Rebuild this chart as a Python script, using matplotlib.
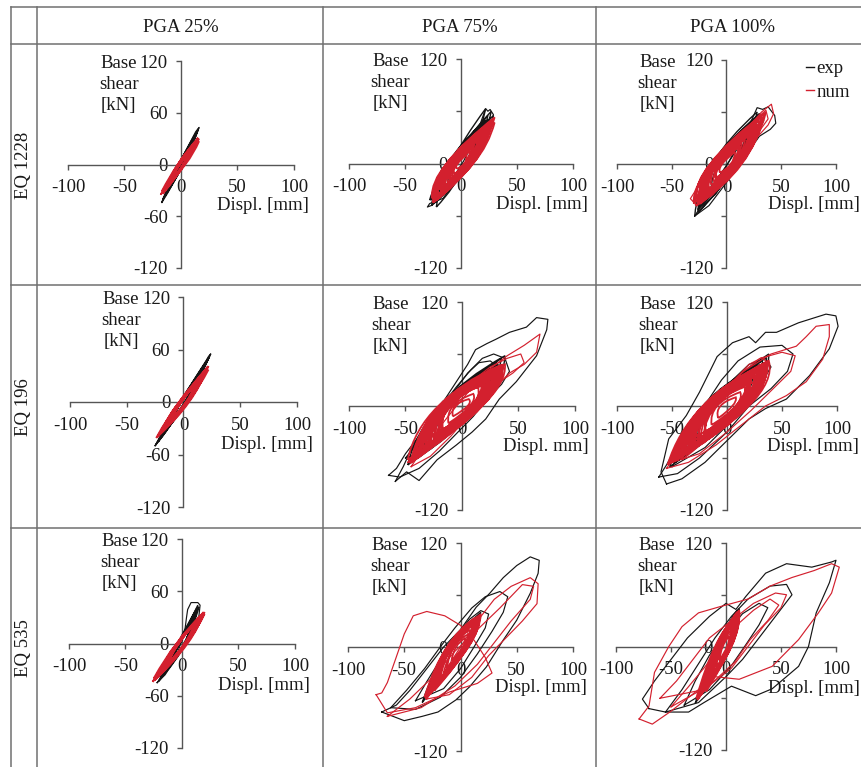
import matplotlib
matplotlib.use('Agg')
import matplotlib.pyplot as plt
from matplotlib.lines import Line2D
from matplotlib.path import Path
from matplotlib.patches import PathPatch
from matplotlib.ticker import FixedLocator, FixedFormatter

plt.rcParams['font.family'] = ['Liberation Serif', 'DejaVu Serif']
plt.rcParams['axes.unicode_minus'] = False

# ---------------- labels ----------------
EQ_LABELS = ['EQ 1228', 'EQ 196', 'EQ 535']
PGA_LABELS = ['PGA 25%', 'PGA 75%', 'PGA 100%']
X_TICKS = [-100, -50, 0, 50, 100]
Y_TICKS = [-120, -60, 0, 60, 120]
X_TICK_LABELS = ['-100', '-50', '0', '50', '100']
Y_TICK_LABELS_FULL = ['-120', '-60', '0', '60', '120']
Y_TICK_LABELS_SHORT = ['-120', '', '0', '', '120']
DISPL_LABELS = [['Displ. [mm]', 'Displ. [mm]', 'Displ. [mm]'],
                ['Displ. [mm]', 'Displ. mm]', 'Displ. [mm]'],
                ['Displ. [mm]', 'Displ. [mm]', 'Displ. [mm]']]
SHEAR_LABEL = 'Base\nshear\n[kN]'
SERIES = ['exp', 'num']

# ---------------- data: displacement [mm], base shear [kN] ----------------
# loops: traced polylines
# core: hysteresis cycles (x_neg_tip, y_neg_tip, x_pos_tip, y_pos_tip, x at V=0 loading, x at V=0 unloading)
EXP_LOOPS_1228_25 = [[(-17, -44), (-9, -24), (1, -1), (9, 22), (16, 43), (13, 38), (5, 18), (-2, 1), (-10, -22), (-15, -38), (-17, -44)]]
EXP_CORE_1228_25 = [(-17, -44, 16, 43, 2, -2), (-15, -38, 14, 38, 2, -2), (-13, -33, 12, 33, 1.5, -1.5), (-11, -28, 11, 30, 1, -2),
                    (-16, -40, 15, 40, 2, -1), (-9, -24, 9, 25, 1, -1)]
NUM_LOOPS_1228_25 = []
NUM_CORE_1228_25 = [(-16, -34, 16, 30, 3, -2), (-14, -30, 14, 28, 3, -3), (-12, -26, 13, 25, 2, -2), (-18, -35, 15, 29, 3, -2),
                    (-10, -22, 10, 20, 2, -2), (-15, -28, 16, 27, 4, -1), (-13, -27, 12, 24, 2, -3), (-17, -31, 15, 31, 3, -3),
                    (-8, -18, 9, 18, 2, -1), (-11, -24, 14, 26, 3, -2)]

EXP_LOOPS_1228_75 = [[(-26, -48), (-18, -36), (-8, -18), (2, 2), (10, 22), (17, 45), (22, 63), (24, 60), (26, 62), (29, 56), (26, 45),
                      (20, 30), (12, 12), (4, -4), (-6, -22), (-16, -40), (-28, -46), (-30, -50), (-26, -48)]]
EXP_CORE_1228_75 = [(-24, -44, 24, 55, 7, -10), (-22, -40, 20, 48, 6, -9), (-20, -38, 26, 52, 8, -8), (-18, -34, 18, 42, 5, -11),
                    (-25, -46, 22, 50, 6, -12), (-15, -30, 16, 36, 4, -7), (-28, -42, 27, 60, 8, -11), (-22, -50, 22, 63, 5, -9),
                    (-12, -24, 12, 28, 4, -6), (-26, -48, 29, 55, 9, -12)]
NUM_LOOPS_1228_75 = []
NUM_CORE_1228_75 = [(-25, -45, 30, 53, 10, -12), (-24, -42, 28, 48, 9, -13), (-22, -40, 27, 45, 10, -11), (-20, -36, 25, 42, 8, -13),
                    (-23, -38, 24, 40, 9, -10), (-18, -32, 22, 36, 7, -9), (-16, -28, 20, 32, 6, -8), (-21, -35, 28, 50, 11, -10),
                    (-14, -25, 18, 30, 5, -7), (-24, -44, 26, 44, 10, -12), (-12, -22, 15, 26, 5, -6), (-19, -30, 23, 38, 8, -9),
                    (-10, -18, 12, 22, 4, -5), (-26, -40, 30, 47, 11, -13), (-17, -34, 21, 40, 6, -11), (-8, -15, 10, 18, 4, -4),
                    (-22, -42, 25, 46, 9, -12), (-15, -26, 19, 34, 8, -7), (-6, -12, 8, 14, 4, -4), (-10, -20, 10, 20, 5, -6),
                    (-4, -6, 5, 10, 3, -3)]

EXP_LOOPS_1228_100 = [[(-29, -60), (-22, -46), (-10, -20), (2, 2), (12, 22), (22, 48), (28, 65), (33, 63), (38, 66), (44, 56), (45, 47),
                       (40, 40), (30, 32), (20, 14), (10, -4), (-4, -28), (-16, -48), (-29, -60)],
                      [(-26, -52), (-15, -30), (0, -2), (12, 25), (24, 50), (30, 58), (34, 50), (28, 35), (15, 12), (3, -10), (-10, -35), (-26, -52)]]
EXP_CORE_1228_100 = [(-25, -50, 24, 50, 8, -12), (-22, -45, 22, 45, 7, -10), (-20, -42, 26, 52, 9, -11), (-18, -38, 20, 40, 6, -9),
                     (-29, -60, 28, 60, 9, -13), (-26, -55, 30, 58, 10, -12), (-14, -30, 15, 32, 5, -7), (-23, -48, 25, 48, 8, -14)]
NUM_LOOPS_1228_100 = [[(-27, -48), (-33, -40), (-28, -30), (-15, -10), (0, 12), (15, 35), (32, 60), (41, 69), (43, 58), (38, 45), (26, 28),
                       (14, 8), (2, -12), (-12, -35), (-27, -48)],
                      [(-30, -45), (-20, -22), (-5, 5), (10, 28), (25, 50), (36, 62), (38, 52), (30, 38), (18, 18), (6, -2), (-8, -25), (-30, -45)]]
NUM_CORE_1228_100 = [(-26, -46, 30, 50, 12, -13), (-24, -42, 28, 46, 11, -14), (-22, -40, 26, 44, 12, -12), (-20, -36, 24, 40, 10, -13),
                     (-25, -44, 32, 54, 13, -11), (-18, -32, 22, 36, 9, -10), (-23, -38, 27, 42, 11, -14), (-16, -28, 20, 32, 8, -9),
                     (-21, -34, 25, 38, 10, -12), (-14, -24, 17, 28, 7, -8), (-28, -48, 34, 58, 14, -15), (-12, -20, 14, 24, 6, -6),
                     (-19, -35, 23, 42, 9, -12), (-27, -40, 29, 44, 12, -15), (-10, -16, 11, 20, 5, -5), (-24, -46, 26, 48, 10, -13),
                     (-17, -30, 20, 34, 10, -9), (-30, -44, 36, 60, 13, -14), (-6, -10, 8, 14, 4, -4), (-9, -18, 12, 20, 6, -7)]

EXP_LOOPS_196_25 = [[(-25, -50), (-15, -30), (0, -2), (12, 26), (24, 55), (22, 52), (10, 24), (-2, 1), (-14, -28), (-25, -50)]]
EXP_CORE_196_25 = [(-22, -45, 22, 50, 2, -2), (-20, -40, 20, 46, 2, -3), (-18, -36, 18, 42, 3, -2), (-24, -48, 23, 52, 1, -2),
                   (-15, -30, 15, 34, 2, -2), (-12, -26, 13, 28, 2, -2), (-25, -50, 24, 55, 2, -3)]
NUM_LOOPS_196_25 = []
NUM_CORE_196_25 = [(-23, -40, 22, 41, 4, -3), (-21, -36, 20, 38, 3, -4), (-19, -34, 19, 35, 4, -3), (-17, -30, 17, 32, 3, -3),
                   (-22, -38, 21, 40, 5, -2), (-15, -26, 15, 28, 3, -3), (-20, -35, 22, 37, 4, -4), (-13, -22, 12, 24, 3, -2),
                   (-24, -41, 20, 36, 4, -4), (-10, -18, 10, 19, 2, -2)]

EXP_LOOPS_196_75 = [[(-59, -87), (-52, -70), (-45, -50), (-36, -30), (-25, -10), (-14, 10), (-4, 30), (5, 48), (12, 65), (22, 72), (30, 77),
                     (42, 85), (57, 91), (66, 102), (76, 100), (75, 88), (66, 58), (48, 28), (33, 8), (21, -15), (9, -30), (-5, -45),
                     (-22, -62), (-38, -86), (-49, -76), (-59, -87)],
                    [(-65, -80), (-58, -72), (-50, -55), (-40, -38), (-30, -20), (-18, 0), (-5, 22), (8, 42), (18, 55), (28, 60), (38, 55),
                     (42, 40), (35, 25), (22, 8), (10, -12), (-5, -32), (-20, -52), (-38, -72), (-55, -82), (-65, -80)],
                    [(-50, -60), (-35, -35), (-20, -10), (-8, 15), (5, 38), (15, 50), (25, 52), (32, 45), (28, 30), (18, 12), (5, -8),
                     (-10, -30), (-28, -50), (-50, -60)]]
EXP_CORE_196_75 = [(-45, -62, 30, 50, 15, -18), (-40, -58, 28, 45, 12, -20), (-38, -55, 32, 48, 14, -16), (-42, -60, 25, 42, 13, -19),
                   (-30, -45, 35, 55, 14, -15), (-35, -50, 20, 38, 10, -14), (-48, -68, 38, 58, 16, -20), (-25, -40, 25, 40, 10, -12)]
NUM_LOOPS_196_75 = [[(-45, -70), (-35, -50), (-22, -28), (-8, -5), (8, 20), (22, 40), (40, 58), (55, 70), (69, 83), (66, 62), (55, 48),
                     (42, 38), (30, 22), (18, 5), (5, -12), (-10, -35), (-28, -58), (-45, -70)],
                    [(-48, -65), (-35, -42), (-20, -18), (-5, 8), (10, 30), (25, 45), (40, 55), (52, 60), (55, 50), (45, 38), (30, 25),
                     (15, 8), (0, -15), (-20, -42), (-48, -65)]]
NUM_CORE_196_75 = [(-45, -65, 35, 45, 17, -18), (-42, -60, 33, 44, 15, -20), (-40, -58, 36, 46, 18, -16), (-38, -55, 30, 42, 14, -19),
                   (-44, -62, 34, 47, 16, -17), (-36, -52, 32, 40, 15, -15), (-33, -50, 28, 38, 12, -17), (-30, -45, 27, 36, 13, -14),
                   (-41, -57, 35, 43, 17, -19), (-28, -42, 24, 34, 11, -13), (-46, -66, 31, 45, 15, -20), (-35, -48, 33, 44, 16, -16),
                   (-25, -38, 22, 30, 10, -12), (-22, -34, 20, 28, 9, -11), (-48, -62, 38, 48, 18, -21), (-39, -60, 30, 40, 12, -18),
                   (-32, -46, 34, 46, 17, -14), (-20, -30, 18, 26, 8, -10), (-43, -58, 28, 38, 14, -20), (-37, -54, 36, 48, 18, -17),
                   (-27, -44, 26, 40, 12, -15), (-34, -40, 30, 34, 16, -12), (-18, -28, 14, 22, 9, -11), (-12, -20, 10, 14, 7, -8),
                   (-8, -12, 6, 8, 5, -6), (-24, -36, 18, 26, 12, -14), (-30, -48, 22, 32, 14, -16), (-15, -35, 20, 30, 10, -12),
                   (-35, -40, 25, 26, 14, -18)]

EXP_LOOPS_196_100 = [[(-55, -90), (-60, -76), (-53, -38), (-37, -11), (-25, 16), (-16, 39), (-9, 57), (5, 73), (20, 80), (26, 73), (35, 85),
                      (45, 85), (65, 96), (90, 106), (99, 104), (101, 92), (93, 66), (75, 35), (54, 8), (35, -3), (20, -15), (0, -40),
                      (-20, -65), (-41, -84), (-55, -90)],
                     [(-62, -82), (-55, -68), (-45, -45), (-32, -20), (-18, 5), (-5, 30), (10, 52), (30, 68), (50, 70), (60, 60), (55, 40),
                      (40, 20), (20, 0), (0, -30), (-25, -60), (-45, -78), (-62, -82)],
                     [(-50, -70), (-38, -48), (-25, -25), (-10, 5), (5, 30), (20, 48), (35, 55), (40, 45), (32, 28), (18, 8), (2, -20),
                      (-20, -48), (-50, -70)]]
EXP_CORE_196_100 = [(-48, -66, 32, 52, 16, -20), (-44, -62, 30, 48, 14, -22), (-40, -58, 34, 50, 17, -18), (-46, -64, 28, 45, 15, -21),
                    (-35, -50, 36, 56, 16, -16), (-52, -70, 30, 44, 14, -22), (-28, -40, 24, 40, 11, -13), (-42, -56, 38, 60, 18, -19)]
NUM_LOOPS_196_100 = [[(-55, -72), (-40, -45), (-25, -15), (-5, 15), (15, 40), (40, 60), (63, 69), (72, 80), (81, 92), (93, 94), (93, 80),
                      (87, 54), (72, 28), (54, 12), (35, 0), (15, -20), (-10, -45), (-35, -65), (-55, -72)],
                     [(-50, -65), (-30, -30), (-10, 10), (15, 40), (30, 55), (50, 62), (62, 58), (58, 40), (42, 20), (22, -5), (0, -30),
                      (-25, -55), (-50, -65)],
                     [(-45, -60), (-28, -30), (-12, 0), (5, 28), (20, 48), (32, 56), (38, 48), (30, 30), (15, 10), (0, -15), (-20, -42),
                      (-45, -60)]]
NUM_CORE_196_100 = [(-50, -65, 35, 48, 18, -20), (-46, -62, 33, 46, 16, -22), (-44, -60, 36, 50, 19, -18), (-42, -58, 30, 44, 15, -21),
                    (-48, -64, 34, 47, 17, -19), (-40, -55, 32, 42, 16, -17), (-36, -52, 28, 40, 14, -18), (-33, -48, 27, 38, 13, -16),
                    (-45, -60, 35, 45, 18, -21), (-30, -44, 25, 36, 12, -15), (-52, -66, 31, 46, 16, -22), (-38, -50, 33, 44, 17, -17),
                    (-27, -40, 22, 32, 10, -13), (-24, -36, 20, 28, 9, -12), (-54, -68, 38, 52, 20, -22), (-41, -62, 30, 40, 13, -19),
                    (-34, -46, 36, 50, 19, -15), (-21, -32, 18, 26, 8, -10), (-47, -60, 29, 40, 15, -21), (-39, -56, 37, 52, 19, -18),
                    (-29, -46, 28, 42, 13, -16), (-36, -44, 32, 38, 17, -13), (-20, -30, 16, 22, 10, -12), (-14, -22, 12, 16, 8, -9),
                    (-8, -14, 8, 10, 5, -6), (-26, -38, 20, 28, 13, -15), (-32, -50, 24, 34, 15, -17), (-18, -38, 22, 32, 11, -13),
                    (-38, -42, 26, 28, 15, -19)]

EXP_LOOPS_535_25 = [[(-22, -45), (-14, -30), (-4, -10), (2, 10), (4, 30), (5, 39), (8, 47), (14, 47), (16, 44), (15, 32), (10, 18), (3, 2),
                     (-6, -18), (-15, -36), (-22, -45)]]
EXP_CORE_535_25 = [(-20, -42, 14, 44, 3, -3), (-18, -38, 13, 40, 2, -4), (-16, -34, 12, 36, 3, -2), (-21, -44, 15, 42, 2, -3),
                   (-14, -30, 10, 32, 2, -2), (-11, -24, 9, 26, 2, -2)]
NUM_LOOPS_535_25 = []
NUM_CORE_535_25 = [(-26, -44, 20, 36, 4, -4), (-23, -40, 18, 34, 3, -5), (-20, -36, 17, 32, 4, -3), (-18, -32, 16, 30, 3, -4),
                   (-24, -42, 19, 36, 5, -3), (-15, -28, 14, 26, 3, -3), (-21, -38, 20, 34, 4, -4), (-12, -22, 11, 22, 2, -3),
                   (-25, -40, 17, 30, 3, -5)]

EXP_LOOPS_535_75 = [[(-70, -75), (-57, -67), (-45, -50), (-30, -25), (-15, 0), (0, 20), (14, 46), (26, 62), (38, 80), (50, 94), (62, 104),
                     (70, 100), (69, 85), (62, 62), (50, 31), (38, 8), (23, -23), (8, -46), (-4, -61), (-20, -75), (-34, -80), (-50, -85),
                     (-70, -75)],
                    [(-62, -70), (-48, -50), (-32, -25), (-18, 0), (-5, 22), (10, 45), (22, 58), (35, 64), (42, 58), (38, 40), (28, 18),
                     (15, -8), (0, -35), (-18, -58), (-40, -72), (-62, -70)],
                    [(-40, -62), (-30, -40), (-18, -15), (-5, 10), (8, 32), (18, 42), (25, 38), (22, 22), (12, 0), (0, -25), (-15, -48),
                     (-40, -62)]]
EXP_CORE_535_75 = [(-30, -58, 15, 35, 5, -10), (-28, -54, 14, 32, 4, -11), (-26, -52, 16, 36, 6, -9), (-32, -60, 12, 30, 4, -12),
                   (-22, -44, 18, 40, 6, -9), (-34, -64, 10, 26, 3, -12)]
NUM_LOOPS_535_75 = [[(-75, -55), (-70, -53), (-65, -41), (-58, -15), (-50, 15), (-42, 36), (-30, 41), (-14, 36), (0, 25), (12, 8),
                     (22, -12), (28, -30), (15, -42), (-10, -52), (-40, -70), (-65, -76), (-75, -55)],
                    [(-30, -60), (-15, -30), (0, 0), (15, 30), (30, 55), (45, 70), (62, 80), (69, 73), (68, 50), (55, 30), (40, 10),
                     (25, -10), (10, -35), (-10, -55), (-30, -60)],
                    [(-65, -80), (-45, -60), (-25, -35), (-5, -5), (15, 20), (35, 45), (55, 72), (65, 70), (62, 55), (45, 30), (30, 5),
                     (15, -20), (-5, -45), (-35, -70), (-65, -80)]]
NUM_CORE_535_75 = [(-30, -58, 16, 34, 6, -10), (-28, -55, 15, 32, 5, -11), (-26, -52, 17, 36, 7, -9), (-24, -48, 14, 30, 5, -10),
                   (-29, -56, 13, 31, 4, -12), (-22, -44, 12, 28, 4, -9), (-27, -50, 16, 33, 6, -11), (-20, -40, 11, 26, 4, -8),
                   (-31, -60, 15, 35, 5, -10), (-18, -36, 10, 24, 3, -8), (-25, -46, 18, 38, 7, -10), (-32, -58, 14, 30, 5, -12),
                   (-15, -30, 8, 20, 3, -6), (-23, -50, 13, 34, 6, -11), (-12, -24, 6, 14, 3, -6), (-8, -16, 4, 10, 2, -4)]

EXP_LOOPS_535_100 = [[(-70, -72), (-76, -61), (-65, -40), (-50, -15), (-35, 10), (-15, 35), (0, 50), (9, 43), (18, 58), (36, 85), (55, 96),
                      (78, 92), (96, 98), (100, 100), (94, 74), (82, 39), (75, 0), (66, -23), (42, -49), (27, -57), (5, -46), (-20, -65),
                      (-34, -76), (-55, -76), (-70, -72)],
                     [(-55, -76), (-40, -50), (-25, -20), (-10, 10), (5, 35), (20, 55), (40, 70), (55, 72), (60, 60), (45, 35), (30, 10),
                      (15, -15), (0, -35), (-25, -65), (-55, -76)],
                     [(-38, -68), (-28, -40), (-15, -10), (0, 15), (15, 38), (30, 50), (38, 45), (30, 25), (18, 2), (5, -22), (-15, -50),
                      (-38, -68)]]
EXP_CORE_535_100 = [(-25, -60, 10, 42, 3, -8), (-23, -56, 9, 38, 3, -9), (-21, -52, 11, 40, 4, -7), (-27, -62, 8, 36, 2, -8),
                    (-18, -46, 12, 44, 4, -7), (-28, -66, 7, 32, 2, -9)]
NUM_LOOPS_535_100 = [[(-79, -84), (-67, -90), (-50, -75), (-30, -55), (-10, -35), (12, -38), (42, -23), (66, 8), (84, 39), (96, 62),
                      (103, 92), (96, 96), (80, 88), (60, 80), (40, 70), (20, 55), (-6, 46), (-25, 39), (-40, 23), (-52, 0), (-65, -30),
                      (-70, -69), (-79, -84)],
                     [(-60, -60), (-45, -40), (-30, -15), (-15, 10), (5, 30), (25, 50), (45, 62), (55, 60), (50, 45), (35, 25), (20, 0),
                      (5, -25), (-20, -50), (-60, -60)],
                     [(-50, -70), (-35, -48), (-20, -25), (-5, 0), (10, 25), (25, 42), (40, 55), (48, 48), (38, 30), (22, 8), (8, -18),
                      (-15, -45), (-50, -70)]]
NUM_CORE_535_100 = [(-25, -60, 10, 40, 4, -8), (-23, -56, 9, 37, 3, -9), (-21, -52, 11, 39, 4, -7), (-19, -48, 8, 34, 3, -8),
                    (-24, -58, 10, 38, 4, -9), (-17, -44, 7, 32, 3, -7), (-22, -54, 12, 41, 5, -8), (-15, -40, 6, 30, 2, -6),
                    (-26, -62, 9, 36, 3, -9), (-13, -34, 5, 26, 2, -5), (-20, -50, 12, 42, 5, -8), (-27, -60, 8, 33, 3, -10),
                    (-11, -30, 4, 22, 2, -5), (-18, -52, 10, 36, 4, -9), (-9, -24, 4, 18, 2, -4), (-6, -16, 3, 12, 1, -3)]

PANEL_DATA = [
    [(EXP_LOOPS_1228_25, EXP_CORE_1228_25, NUM_LOOPS_1228_25, NUM_CORE_1228_25),
     (EXP_LOOPS_1228_75, EXP_CORE_1228_75, NUM_LOOPS_1228_75, NUM_CORE_1228_75),
     (EXP_LOOPS_1228_100, EXP_CORE_1228_100, NUM_LOOPS_1228_100, NUM_CORE_1228_100)],
    [(EXP_LOOPS_196_25, EXP_CORE_196_25, NUM_LOOPS_196_25, NUM_CORE_196_25),
     (EXP_LOOPS_196_75, EXP_CORE_196_75, NUM_LOOPS_196_75, NUM_CORE_196_75),
     (EXP_LOOPS_196_100, EXP_CORE_196_100, NUM_LOOPS_196_100, NUM_CORE_196_100)],
    [(EXP_LOOPS_535_25, EXP_CORE_535_25, NUM_LOOPS_535_25, NUM_CORE_535_25),
     (EXP_LOOPS_535_75, EXP_CORE_535_75, NUM_LOOPS_535_75, NUM_CORE_535_75),
     (EXP_LOOPS_535_100, EXP_CORE_535_100, NUM_LOOPS_535_100, NUM_CORE_535_100)],
]

# ---------------- layout (pixels) ----------------
W, H = 862, 767
# (x at -100, x at +100, y at +120, y at -120)
AX_BOX = [[(68, 294, 61, 268), (349, 573, 59, 268), (617, 836, 60, 268)],
          [(70, 297, 297, 507), (349, 575, 302, 510), (617, 837, 302, 510)],
          [(69, 295, 539, 748), (348, 573, 543, 751), (616, 836, 543, 750)]]
SHEAR_X = [-55, -63, -63]
DISPL_POS = [[(113, -48), (113, -47), (122, -47)],
             [(114, -49), (112, -47), (120, -47)],
             [(113, -48), (112, -47), (122, -49)]]
HEADER_X = [181, 460, 733]
HEADER_Y = 27
ROW_Y = [165, 407, 648]

EXP_COLOR = '#151515'
NUM_COLOR = '#d3202e'
GRID_COLOR = '#707070'
TEXT_COLOR = '#1a1a1a'
FS = 13.5

fig = plt.figure(figsize=(W / 100, H / 100), dpi=100)
fig.patch.set_facecolor('white')


def fx(px):
    return px / W


def fy(py):
    return 1 - py / H


def hline(y, x1, x2):
    fig.add_artist(Line2D([fx(x1), fx(x2)], [fy(y), fy(y)], transform=fig.transFigure, color=GRID_COLOR, lw=1.1))


def vline(x, y1, y2):
    fig.add_artist(Line2D([fx(x), fx(x)], [fy(y1), fy(y2)], transform=fig.transFigure, color=GRID_COLOR, lw=1.1))


for yy in (7, 44, 285, 528):
    hline(yy, 11, 862)
for xx in (11, 37, 323, 596):
    vline(xx, 7, 767)

for j, lab in enumerate(PGA_LABELS):
    fig.text(fx(HEADER_X[j]), fy(HEADER_Y), lab, ha='center', va='center', fontsize=FS, color=TEXT_COLOR)
for i, lab in enumerate(EQ_LABELS):
    fig.text(fx(24), fy(ROW_Y[i]), lab, ha='center', va='center', rotation=90, fontsize=FS, color=TEXT_COLOR)


def cycle_path(cycles):
    """Lens-shaped hysteresis cycles: quadratic curves between the read tips,
    passing through the read zero-shear displacements."""
    verts, codes = [], []
    for (x1, y1, x2, y2, xu, xd) in cycles:
        mx, my = (x1 + x2) / 2, (y1 + y2) / 2
        cu = (2 * xu - mx, -my)
        cd = (2 * xd - mx, -my)
        verts += [(x1, y1), cu, (x2, y2), cd, (x1, y1)]
        codes += [Path.MOVETO, Path.CURVE3, Path.CURVE3, Path.CURVE3, Path.CURVE3]
    return Path(verts, codes)


for i in range(3):
    for j in range(3):
        xl, xr, yt, yb = AX_BOX[i][j]
        ax = fig.add_axes([fx(xl), fy(yb), (xr - xl) / W, (yb - yt) / H])
        ax.set_facecolor('none')
        ax.set_xlim(-100, 100)
        ax.set_ylim(-120, 120)
        for s in ('top', 'right'):
            ax.spines[s].set_visible(False)
        for s in ('left', 'bottom'):
            ax.spines[s].set_position(('data', 0))
            ax.spines[s].set_color('#555555')
            ax.spines[s].set_linewidth(1.0)
        ax.xaxis.set_major_locator(FixedLocator(X_TICKS))
        ax.xaxis.set_major_formatter(FixedFormatter(X_TICK_LABELS))
        ax.yaxis.set_major_locator(FixedLocator(Y_TICKS))
        ax.yaxis.set_major_formatter(FixedFormatter(Y_TICK_LABELS_FULL if j == 0 else Y_TICK_LABELS_SHORT))
        ax.tick_params(axis='x', direction='out', length=3.5, width=1.0, color='#555555', pad=7,
                       labelsize=FS, labelcolor=TEXT_COLOR)
        ax.tick_params(axis='y', direction='out', length=3.5, width=1.0, color='#555555', pad=6,
                       labelsize=FS, labelcolor=TEXT_COLOR)

        exp_loops, exp_core, num_loops, num_core = PANEL_DATA[i][j]
        for loop in exp_loops:
            ax.plot([p[0] for p in loop], [p[1] for p in loop], color=EXP_COLOR, lw=0.85, clip_on=False, zorder=3)
        ax.add_patch(PathPatch(cycle_path(exp_core), facecolor='none', edgecolor=EXP_COLOR, lw=1.0,
                               clip_on=False, zorder=3))
        for loop in num_loops:
            ax.plot([p[0] for p in loop], [p[1] for p in loop], color=NUM_COLOR, lw=0.85, clip_on=False, zorder=4)
        ax.add_patch(PathPatch(cycle_path(num_core), facecolor='none', edgecolor=NUM_COLOR, lw=1.3,
                               clip_on=False, zorder=4))

        ax.text(SHEAR_X[j], 127, SHEAR_LABEL, ha='center', va='top', multialignment='center',
                fontsize=FS, color=TEXT_COLOR, linespacing=1.32, clip_on=False)
        dx, dy = DISPL_POS[i][j]
        ax.text(dx, dy, DISPL_LABELS[i][j], ha='right', va='center', fontsize=FS, color=TEXT_COLOR, clip_on=False)

        if i == 0 and j == 2:
            handles = [Line2D([], [], color=EXP_COLOR, lw=1.0), Line2D([], [], color=NUM_COLOR, lw=1.0)]
            ax.legend(handles, SERIES, loc='upper left', bbox_to_anchor=(0.865, 1.0), frameon=False,
                      borderpad=0, borderaxespad=0, handlelength=0.4, handletextpad=0.15, labelspacing=0.35,
                      fontsize=FS, labelcolor=TEXT_COLOR)

fig.savefig('out.png', dpi=100)
